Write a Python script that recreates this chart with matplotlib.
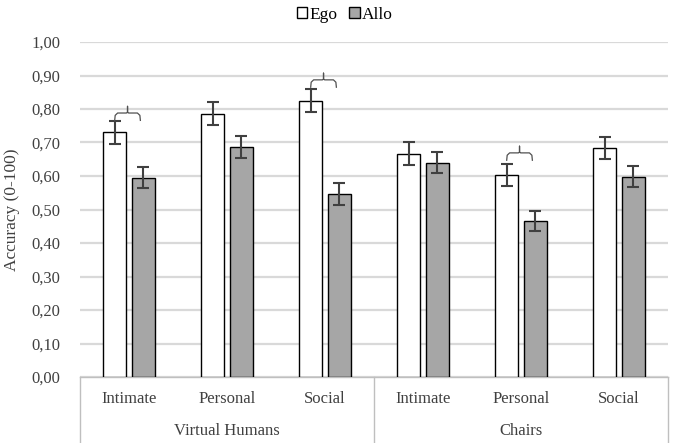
import matplotlib
matplotlib.use('Agg')
import matplotlib.pyplot as plt
from matplotlib.patches import Patch
import numpy as np

plt.rcParams['font.family'] = ['Liberation Serif', 'DejaVu Serif']

# Accuracy per condition
categories = ['Intimate', 'Personal', 'Social', 'Intimate', 'Personal', 'Social']
groups = ['Virtual Humans', 'Chairs']
ego = [0.730, 0.786, 0.825, 0.667, 0.602, 0.683]
allo = [0.595, 0.686, 0.546, 0.640, 0.467, 0.598]
ego_err = [0.033, 0.034, 0.034, 0.033, 0.033, 0.033]
allo_err = [0.031, 0.032, 0.032, 0.032, 0.030, 0.031]
# brace over pairs marked as different (category index, brace height)
braces = [(0, 0.788), (2, 0.887), (4, 0.669)]

W, H = 685, 443
fig = plt.figure(figsize=(W / 100, H / 100), dpi=100)
ax = fig.add_axes([80 / W, (H - 377) / H, 588 / W, 335 / H])

x = np.arange(len(categories)) + 0.5
off, bw = 0.146, 0.23
err_kw = dict(ecolor='#404040', elinewidth=1.5, capsize=4, capthick=1.5)
ax.bar(x - off, ego, bw, yerr=ego_err, color='white', edgecolor='black',
       linewidth=1, error_kw=err_kw, zorder=3)
ax.bar(x + off, allo, bw, yerr=allo_err, color='#a6a6a6', edgecolor='black',
       linewidth=1, error_kw=err_kw, zorder=3)

# curly braces above the marked pairs
for i, yb in braces:
    x0, x1 = x[i] - off, x[i] + off - 0.03
    xm = (x0 + x1) / 2
    bx = [x0, x0 + 0.005, x0 + 0.03, xm - 0.012, xm, xm, xm, xm + 0.012, x1 - 0.03, x1 - 0.005, x1]
    by = [yb - 0.022, yb - 0.007, yb, yb, yb + 0.002, yb + 0.02, yb + 0.002, yb, yb, yb - 0.007, yb - 0.022]
    ax.plot(bx, by, color='#505050', lw=0.9, zorder=4)

ax.set_xlim(0, 6)
ax.set_ylim(0, 1.0)
ax.set_yticks(np.arange(0, 1.01, 0.1))
ax.set_yticklabels([f'{v:.2f}'.replace('.', ',') for v in np.arange(0, 1.01, 0.1)],
                   fontsize=12, color='#404040')
ax.tick_params(axis='y', length=0, pad=14)
ax.tick_params(axis='x', length=0, labelbottom=False)
ax.grid(axis='y', color='#d9d9d9', lw=1.6, zorder=0)
ax.set_axisbelow(True)
for s in ['top', 'right', 'left']:
    ax.spines[s].set_visible(False)
ax.spines['bottom'].set_color('#bfbfbf')
ax.spines['bottom'].set_linewidth(1)
ax.set_ylabel('Accuracy (0-100)', fontsize=12.5, color='#404040', labelpad=8)

# two-level category axis
tr = ax.get_xaxis_transform()
for xi, c in zip(x, categories):
    ax.text(xi, -0.065, c, transform=tr, ha='center', va='center',
            fontsize=12, color='#404040')
for gi, g in enumerate(groups):
    ax.text(1.5 + 3 * gi, -0.16, g, transform=tr, ha='center', va='center',
            fontsize=12, color='#404040')
for xv in [0, 3, 6]:
    ax.plot([xv, xv], [0, -0.2], transform=tr, color='#bfbfbf', lw=1, clip_on=False)

handles = [Patch(facecolor='white', edgecolor='black', label='Ego'),
           Patch(facecolor='#a6a6a6', edgecolor='black', label='Allo')]
fig.legend(handles=handles, loc='upper center', bbox_to_anchor=(0.503, 1.02),
           ncol=2, frameon=False, fontsize=12.5, handlelength=0.6,
           handleheight=0.6, handletextpad=0.1, columnspacing=0.7)

fig.savefig('out.png', dpi=100)
